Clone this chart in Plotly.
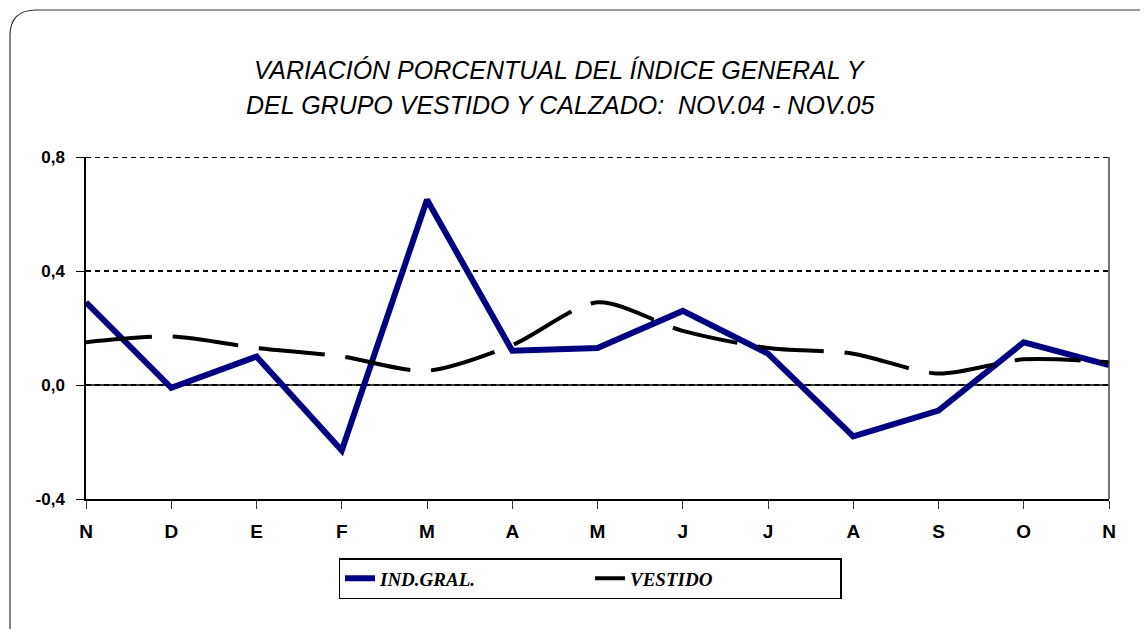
import plotly.graph_objects as go

months = ["N", "D", "E", "F", "M", "A", "M", "J", "J", "A", "S", "O", "N"]
ind_gral = [0.29, -0.01, 0.10, -0.23, 0.65, 0.12, 0.13, 0.26, 0.11, -0.18, -0.09, 0.15, 0.07]
vestido = [0.15, 0.17, 0.13, 0.10, 0.05, 0.14, 0.29, 0.19, 0.13, 0.11, 0.04, 0.09, 0.08]
y_ticks = [-0.4, 0.0, 0.4, 0.8]
y_ticktext = ["-0,4", "0,0", "0,4", "0,8"]
title_lines = ["VARIACIÓN PORCENTUAL DEL ÍNDICE GENERAL Y",
               "DEL GRUPO VESTIDO Y CALZADO:  NOV.04 - NOV.05"]

# page offset (browser default body margin)
OFF = 8
W, H = 1140, 621
PL, PR, PT, PB = 86, 1109, 157, 499   # plot area in page pixels
ML, MR, MT, MB = PL - OFF, W - (PR - OFF), PT - OFF, H - (PB - OFF)
PW, PH = PR - PL, PB - PT

def px(x):
    return (x - PL) / PW

def py(y):
    return (PB - y) / PH

xs = list(range(len(months)))

fig = go.Figure()
fig.add_trace(go.Scatter(
    x=xs, y=ind_gral, name="IND.GRAL.", mode="lines",
    line=dict(color="#000080", width=6),
))
fig.add_trace(go.Scatter(
    x=xs, y=vestido, name="VESTIDO", mode="lines",
    line=dict(color="black", width=4, dash="66px,21px", shape="spline", smoothing=0.8),
))

# rounded outer border
r = 26
x0, y0, x1, y1 = 10, 10, 1170, 660
path = (f"M {px(x0)},{py(y1)} L {px(x0)},{py(y0 + r)} "
        f"Q {px(x0)},{py(y0)} {px(x0 + r)},{py(y0)} "
        f"L {px(x1)},{py(y0)}")
shapes = [
    dict(type="path", xref="paper", yref="paper", path=path,
         line=dict(color="#333333", width=1.2)),
    dict(type="line", xref="paper", yref="paper", x0=1, x1=1, y0=0, y1=1,
         line=dict(color="#444444", width=1.5)),
    dict(type="line", xref="paper", yref="y", x0=0, x1=1, y0=0, y1=0,
         line=dict(color="black", width=1.5), layer="below"),
    dict(type="line", xref="paper", yref="y", x0=0, x1=1, y0=0.8, y1=0.8,
         line=dict(color="black", width=2, dash="5px,4px"), layer="below"),
]

annotations = [
    dict(text=title_lines[0], xref="paper", yref="paper", x=px(560), y=py(70),
         xanchor="center", yanchor="middle", showarrow=False,
         font=dict(family="Liberation Sans, Arial", size=25, style="italic", color="black")),
    dict(text=title_lines[1], xref="paper", yref="paper", x=px(560), y=py(105),
         xanchor="center", yanchor="middle", showarrow=False,
         font=dict(family="Liberation Sans, Arial", size=25, style="italic", color="black")),
]

fig.update_layout(
    width=W, height=H,
    margin=dict(l=ML, r=MR, t=MT, b=MB),
    paper_bgcolor="white", plot_bgcolor="white",
    shapes=shapes, annotations=annotations,
    legend=dict(
        orientation="h", x=px(590), xanchor="center", y=py(558), yanchor="top",
        bordercolor="black", borderwidth=1.5, bgcolor="white",
        font=dict(family="Liberation Serif, Times New Roman", size=19, style="italic",
                  weight="bold", color="black"),
        entrywidth=205,
    ),
    xaxis=dict(
        range=[0, 12], tickvals=xs, ticktext=months,
        showgrid=False, zeroline=False,
        showline=True, linecolor="black", linewidth=1.5,
        ticks="outside", ticklen=8, tickcolor="#333333", tickwidth=1,
        ticklabelstandoff=6,
        tickfont=dict(family="Liberation Sans, Arial", size=19, weight="bold", color="black"),
    ),
    yaxis=dict(
        range=[-0.4, 0.8], tickvals=y_ticks, ticktext=y_ticktext,
        showgrid=True, gridcolor="black", griddash="5px,4px", gridwidth=2,
        zeroline=False,
        showline=True, linecolor="black", linewidth=1.5,
        ticks="outside", ticklen=8, tickcolor="black", tickwidth=1,
        ticklabelstandoff=8,
        tickfont=dict(family="Liberation Sans, Arial", size=17, weight="bold", color="black"),
    ),
)

fig.write_html("out.html")
